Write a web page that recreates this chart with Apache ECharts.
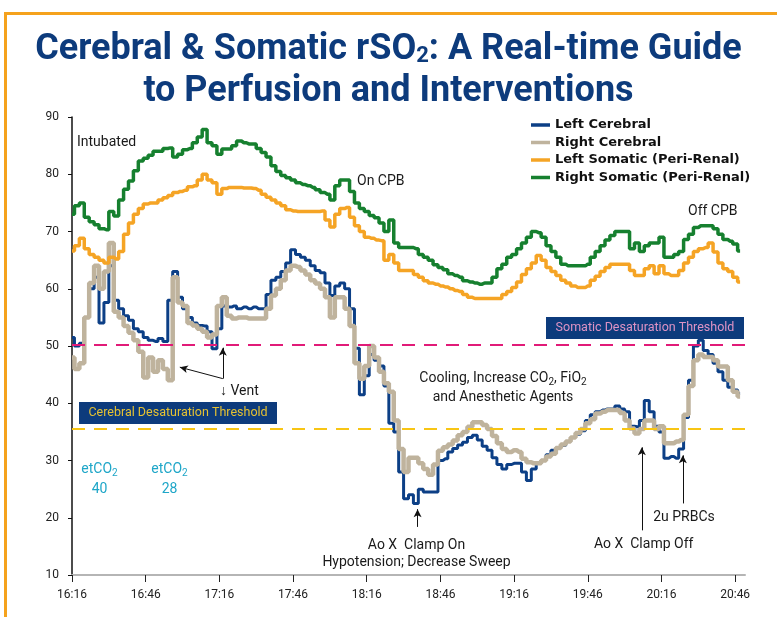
<!DOCTYPE html>
<html>
<head>
<meta charset="utf-8">
<style>
  html, body { margin: 0; padding: 0; background: #ffffff; }
  #chart { width: 777px; height: 617px; }
</style>
<script src="https://cdn.jsdelivr.net/npm/echarts@6/dist/echarts.min.js"></script>
</head>
<body>
<div id="chart"></div>
<script>
  // samples every 2 minutes, starting at 16:16
  var sampleStep = 2;

  var seriesNames = ["Left Cerebral", "Right Cerebral", "Left Somatic (Peri-Renal)", "Right Somatic (Peri-Renal)"];

  var leftCerebral = [
    51.5, 50, 50.5, 55, 60, 62, 54, 57.6, 64, 58,
    56.5, 55.3, 54.5, 53, 52.5, 51.5, 51, 50.8, 51.3, 50.8,
    58, 63, 58.5, 56.5, 55, 54, 53.6, 53.5, 52.5, 49.5,
    53, 57, 56.8, 57, 56.5, 56.8, 56.5, 56.8, 56.5, 56.5,
    59, 61.5, 62, 63, 64.5, 66.8, 66, 65.5, 65, 64,
    63.2, 62.8, 61, 58.8, 60.5, 61, 60, 56.5, 49.6, 41.5,
    44.8, 48.5, 47.5, 46.5, 43, 36.5, 35, 28, 23.3, 24,
    22.5, 25, 24.5, 24.5, 24.5, 30, 30.3, 31.5, 32.1, 32.7,
    33.2, 34, 34.4, 33.6, 32.5, 31.8, 30.5, 29.3, 28.5, 29.3,
    29.5, 29.5, 28, 26.5, 28.5, 29.5, 30, 31, 31.8, 32.2,
    32.6, 33.3, 34, 34.6, 35.2, 37, 38, 38.5, 38.8, 39,
    39, 39.5, 39, 38.5, 36, 35.9, 37, 40.5, 38.5, 36,
    35, 30.4, 30.7, 30.4, 32, 37.5, 44, 50, 51, 49.2,
    48.5, 47, 45.5, 44, 42.8, 42.3, 41.7
  ];

  var rightCerebral = [
    48, 46, 47, 55, 61, 64, 60, 63, 68, 56,
    55, 53.5, 52.3, 51, 49, 44.5, 48, 45.5, 47.5, 46,
    44, 62, 57.6, 57, 54, 53.6, 53, 52.5, 51.5, 52,
    57, 58.5, 55.3, 54.8, 55, 55, 54.8, 54.8, 54.8, 54.8,
    56.5, 58.8, 60, 61.5, 63.2, 64, 63.8, 63.2, 62.5, 61.5,
    60.9, 60, 58.5, 55, 58.5, 58.5, 56.5, 53.5, 47, 44.3,
    46.5, 50, 48, 45.5, 43.5, 42, 37, 32, 28, 30.5,
    30.5, 29.5, 28.5, 27.5, 29.3, 31.7, 32.3, 32.8, 33.5, 34.4,
    35, 35.9, 36.7, 36.7, 36.2, 35.5, 34.3, 33, 32, 31.5,
    31.8, 31.5, 30.3, 29.7, 29.5, 29.5, 30, 30.7, 31.2, 32.2,
    32.8, 33.3, 34, 34.8, 35.5, 36.5, 37.2, 38.2, 38.5, 38.8,
    38.8, 38.8, 38.3, 37, 35.6, 34.7, 35.5, 37, 37, 35.5,
    36, 33, 33, 33.3, 33.6, 38, 43, 47.5, 48.5, 48.1,
    48.1, 47.5, 46.4, 46.4, 44, 42, 41.2
  ];

  var leftSomatic = [
    66.6, 67.5, 68.8, 67, 66, 65.5, 65, 64.5, 65.5, 65.2,
    66.5, 69.5, 71.5, 73, 74, 74.8, 75, 75, 75.5, 75.9,
    76.3, 76.8, 77, 77.2, 77.8, 78, 79, 80, 79, 78.5,
    76.5, 77.5, 77.7, 77.7, 77.7, 77.6, 77.6, 77.5, 77.2, 76.5,
    76, 75.5, 75, 74.5, 73.8, 73.6, 73.5, 73.5, 73.5, 73.5,
    73.5, 73.6, 72, 70.8, 73, 74, 74.2, 72.5, 71, 70,
    69, 68.8, 68.5, 68.4, 65, 66, 64.5, 63.2, 63.2, 63.2,
    62.5, 62, 61.4, 61, 60.8, 60.5, 60.3, 60, 59.7, 59.5,
    59, 58.5, 58.3, 58.3, 58.3, 58.3, 58.3, 58.3, 59, 59.5,
    60.2, 61.2, 62.5, 63.5, 64.5, 65.8, 65, 63.7, 63, 62.3,
    61.5, 61, 60.5, 60.2, 60.2, 60.5, 61.5, 62.2, 63, 63.7,
    64.3, 64.3, 64.3, 64.3, 63.2, 62.3, 62.3, 63.5, 64, 62.6,
    64, 62.6, 62.3, 62.3, 63.2, 64.5, 65.5, 66.5, 67, 67.2,
    68, 66.4, 64.5, 63.5, 63, 62, 61.2
  ];

  var rightSomatic = [
    73, 74.5, 75, 72.5, 71.7, 71.2, 70.5, 70.3, 73.5, 72.7,
    75.5, 77.4, 78.8, 80.6, 82.3, 82.8, 83.3, 84, 84, 84.5,
    84.6, 83, 83.5, 84.3, 84.5, 85.5, 86.5, 87.8, 85.5, 85,
    83.5, 84.4, 84.4, 85, 85.8, 85.5, 85.3, 85.3, 84.5, 83.8,
    83, 81.5, 80.5, 79.8, 79.4, 79, 78.5, 78.2, 78, 77.7,
    77.3, 76.8, 76.5, 75.5, 78, 79, 79, 77, 75, 74,
    73.5, 72.8, 72.4, 71.5, 70, 72, 68, 67.2, 67.2, 67.2,
    67, 66, 65.5, 65, 64.2, 63.7, 63.3, 62.6, 62.3, 62,
    61.4, 61.2, 61, 60.8, 61, 61, 62, 63.5, 64.3, 65.5,
    66, 67, 68, 69, 70, 69.8, 69, 67.5, 66.5, 65.5,
    64.3, 64, 64, 64, 64, 64.3, 65.5, 66.5, 67.5, 68.5,
    69.3, 70, 70, 70, 67, 68, 66.5, 67.5, 68, 68,
    69, 65.5, 65.5, 66, 66.5, 68.6, 69.5, 70.7, 71, 71,
    71, 70.5, 69.5, 68.6, 68.3, 67.8, 66.6
  ];

  var tickMinutes = [0, 30, 60, 90, 120, 150, 180, 210, 240, 270];
  var tickLabels = ["16:16", "16:46", "17:16", "17:46", "18:16", "18:46", "19:16", "19:46", "20:16", "20:46"];

  var somaticThreshold = 50.2;
  var cerebralThreshold = 35.6;

  // arrows: [fromMinute, fromValue, toMinute, toValue]
  var arrowLines = [
    [61.4, 44.3, 61.4, 49.7],
    [61.4, 44.3, 43.9, 46.3],
    [140.7, 18.4, 140.7, 21.5],
    [232, 17.8, 232, 32.3],
    [248.7, 22.5, 248.7, 30.9]
  ];

  var NAVY = "#0d3b7c";
  var CYAN = "#1ea6c8";
  var TEXT_FONT = "Roboto, 'Liberation Sans', sans-serif";

  function toPairs(values) {
    return values.map(function (v, i) {
      return [i * sampleStep, v];
    });
  }

  var chart = echarts.init(document.getElementById("chart"), null, { renderer: "canvas" });

  var lineColors = ["#0c3f86", "#bfb39d", "#f5a425", "#16802f"];
  var lineWidths = [3, 4.5, 3.5, 3.5];
  var allValues = [leftCerebral, rightCerebral, leftSomatic, rightSomatic];

  var series = allValues.map(function (values, idx) {
    return {
      name: seriesNames[idx],
      type: "line",
      step: "middle",
      data: toPairs(values),
      showSymbol: false,
      lineStyle: { color: lineColors[idx], width: lineWidths[idx] },
      itemStyle: { color: lineColors[idx] },
      emphasis: { disabled: true },
      z: 2 + idx
    };
  });

  var arrowStyle = { color: "#111", type: "solid", width: 1 };

  series[3].markLine = {
    silent: true,
    symbol: ["none", "none"],
    label: { show: false },
    data: [
      { yAxis: somaticThreshold, lineStyle: { color: "#e11b78", type: [13, 9], width: 2 } },
      { yAxis: cerebralThreshold, lineStyle: { color: "#f8c514", type: [13, 9], width: 2 } }
    ].concat(arrowLines.map(function (a) {
      return [
        { coord: [a[0], a[1]], symbol: "none", lineStyle: arrowStyle },
        { coord: [a[2], a[3]], symbol: "arrow", symbolSize: [6, 8] }
      ];
    })),
    lineStyle: arrowStyle
  };

  function subStyle(fill) {
    return { fontFamily: TEXT_FONT, fontSize: 10, fill: fill, verticalAlign: "bottom", padding: [0, 0, 1, 0] };
  }

  function noteText(x, y, text, align) {
    return { type: "text", z: 101, x: x, y: y,
      style: { text: text, fill: "#1a1a1a", font: "14px " + TEXT_FONT, align: align || "left", verticalAlign: "middle" } };
  }

  function etco2Text(x, value) {
    return { type: "text", z: 101, x: x, y: 479,
      style: {
        text: "{t|etCO}{s|2}\n{t|" + value + "}", align: "center", verticalAlign: "middle",
        rich: { t: { fontFamily: TEXT_FONT, fontSize: 14, fill: CYAN, lineHeight: 20 }, s: subStyle(CYAN) }
      } };
  }

  var option = {
    animation: false,
    backgroundColor: "#ffffff",
    title: {
      text: "{a|Cerebral & Somatic rSO}{s|2}{a|: A Real-time Guide}\n{a|to Perfusion and Interventions}",
      left: "center",
      top: 24,
      textStyle: {
        rich: {
          a: { fontFamily: TEXT_FONT, fontWeight: "bold", fontSize: 36, color: NAVY, lineHeight: 42 },
          s: { fontFamily: TEXT_FONT, fontWeight: "bold", fontSize: 22, color: NAVY, lineHeight: 42, verticalAlign: "bottom", padding: [0, 0, 4, 0] }
        }
      }
    },
    legend: {
      data: seriesNames,
      orient: "vertical",
      left: 526,
      top: 113,
      itemWidth: 19,
      itemHeight: 3.5,
      itemGap: 3.5,
      icon: "rect",
      textStyle: { fontFamily: "'DejaVu Sans', sans-serif", fontWeight: "bold", fontSize: 13, color: "#111", lineHeight: 14 }
    },
    grid: { left: 72, right: 32, top: 117, bottom: 42 },
    xAxis: {
      type: "value",
      min: 0,
      max: 274,
      interval: 30,
      axisLine: { lineStyle: { color: "#b5b5b5", width: 2 } },
      axisTick: { customValues: tickMinutes, length: 7, lineStyle: { color: "#222", width: 1 } },
      axisLabel: {
        customValues: tickMinutes,
        margin: 14,
        fontFamily: TEXT_FONT,
        fontSize: 12,
        color: "#222",
        formatter: function (v) {
          var i = tickMinutes.indexOf(v);
          return i >= 0 ? tickLabels[i] : "";
        }
      },
      splitLine: { show: false }
    },
    yAxis: {
      type: "value",
      min: 10,
      max: 90,
      interval: 10,
      axisLine: { show: true, lineStyle: { color: "#111", width: 1.5 } },
      axisTick: { show: true, length: 4, lineStyle: { color: "#111" } },
      axisLabel: { margin: 13, fontFamily: TEXT_FONT, fontSize: 12, color: "#222" },
      splitLine: { show: false }
    },
    series: series,
    graphic: [
      { type: "rect", silent: true, z: 100, shape: { x: 5.5, y: 13.5, width: 800, height: 700 },
        style: { fill: "transparent", stroke: "#f5a21d", lineWidth: 3 } },
      { type: "rect", z: 100, shape: { x: 546, y: 317, width: 198, height: 22 }, style: { fill: NAVY } },
      { type: "text", z: 101, x: 645, y: 328,
        style: { text: "Somatic Desaturation Threshold", fill: "#de93c4", font: "12.5px " + TEXT_FONT, align: "center", verticalAlign: "middle" } },
      { type: "rect", z: 100, shape: { x: 79, y: 402, width: 198, height: 22 }, style: { fill: NAVY } },
      { type: "text", z: 101, x: 178, y: 413,
        style: { text: "Cerebral Desaturation Threshold", fill: "#e6c232", font: "12.5px " + TEXT_FONT, align: "center", verticalAlign: "middle" } },
      noteText(77, 142.5, "Intubated"),
      noteText(357, 181, "On CPB"),
      noteText(688, 211, "Off CPB"),
      noteText(220, 391, "\u2193 Vent"),
      { type: "text", z: 101, x: 503, y: 388,
        style: {
          text: "{t|Cooling, Increase CO}{s|2}{t|, FiO}{s|2}\n{t|and Anesthetic Agents}",
          align: "center", verticalAlign: "middle",
          rich: { t: { fontFamily: TEXT_FONT, fontSize: 14, fill: "#1a1a1a", lineHeight: 19 }, s: subStyle("#1a1a1a") }
        } },
      { type: "text", z: 101, x: 416.5, y: 554,
        style: {
          text: "Ao X  Clamp On\nHypotension; Decrease Sweep",
          fill: "#1a1a1a", font: "14px " + TEXT_FONT, lineHeight: 16.5, align: "center", verticalAlign: "middle"
        } },
      noteText(643.7, 544, "Ao X  Clamp Off", "center"),
      noteText(684, 517.5, "2u PRBCs", "center"),
      etco2Text(99.5, "40"),
      etco2Text(169.5, "28")
    ]
  };

  chart.setOption(option);
</script>
</body>
</html>
